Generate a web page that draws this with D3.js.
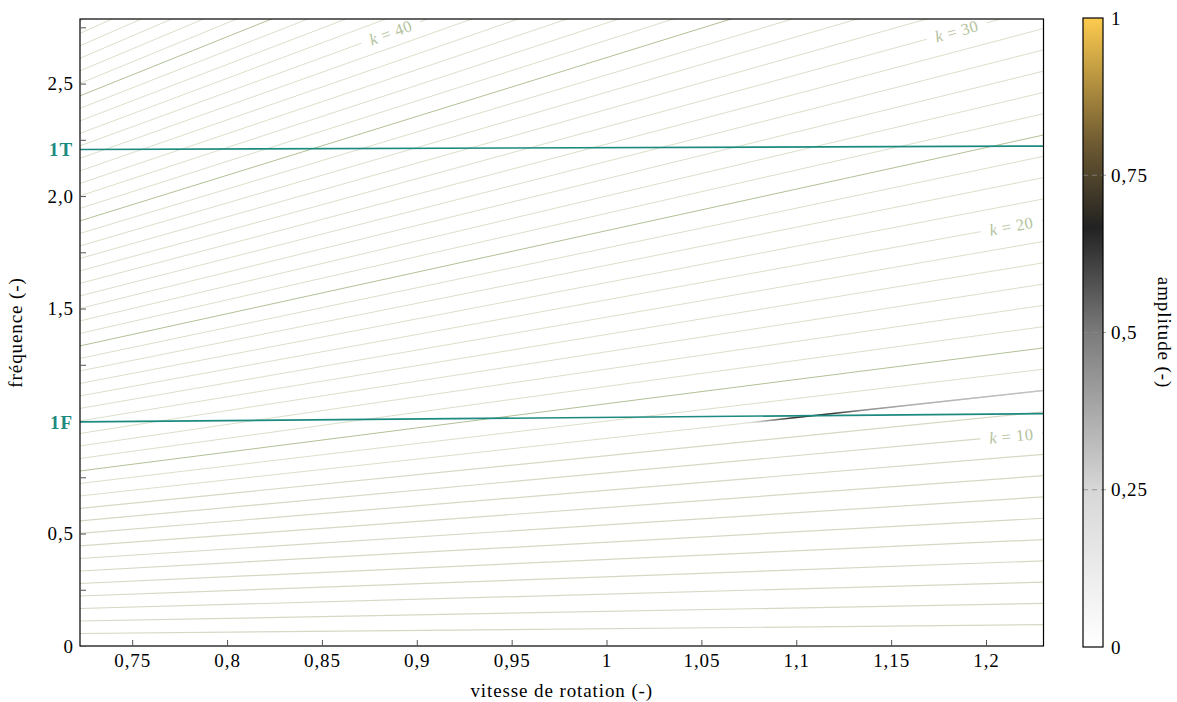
<!DOCTYPE html>
<html>
<head>
<meta charset="utf-8">
<script src="https://cdn.jsdelivr.net/npm/d3@7"></script>
<style>
  html, body { margin: 0; padding: 0; background: #fff; }
  svg { display: block; font-family: "Liberation Serif", "Times New Roman", serif; }
  svg text { letter-spacing: 0.9px; }
</style>
</head>
<body>
<svg id="chart" width="1177" height="702"></svg>
<script>
// ---------------- data ----------------
const omegaDomain = [0.7225, 1.2303];       // vitesse de rotation (-)
const freqDomain = [0, 2.787];              // fréquence (-)
const bladeCount = 13;                      // engine-order line: f = k * Ω / 13
const orders = [1,2,3,4,5,6,7,8,9,10,11,12,13,14,15,16,17,18,19,20,21,22,23,24,25,
                26,27,28,29,30,31,32,33,34,35,36,37,38,39,40,41,42,43,44,45,46,47,48,49,50];
const darkOrders = [14, 24, 34, 44];
const labelOrders = [40, 30, 20, 10];
const labelOmega = [0.8862, 1.1845, 1.2133, 1.2133];

const modeNames = ["1F", "1T"];
const modeOmega = [0.7225, 1.2303];
const mode1F = [0.996, 1.033];
const mode1T = [2.207, 2.222];

// resonance of order 12 with mode 1F (amplitude along the line)
const resOrder = 12;
const resOmega = [1.07, 1.085, 1.097, 1.107, 1.12, 1.135, 1.16, 1.20, 1.2303];
const resAmp   = [0.0, 0.4, 0.62, 0.68, 0.62, 0.45, 0.36, 0.32, 0.30];

const xTickValues = [0.75, 0.8, 0.85, 0.9, 0.95, 1.0, 1.05, 1.1, 1.15, 1.2];
const xTickLabels = ["0,75","0,8","0,85","0,9","0,95","1","1,05","1,1","1,15","1,2"];
const yTickValues = [0, 0.25, 0.5, 0.75, 1.0, 1.25, 1.5, 1.75, 2.0, 2.25, 2.5, 2.75];
const yTickLabels = ["0", "", "0,5", "", "", "", "1,5", "", "2,0", "", "2,5", ""];

const cbStops = [0, 0.25, 0.5, 0.667, 0.8, 1];
const cbColors = ["#ffffff", "#d7d7d7", "#7b7b7b", "#222222", "#6e5a32", "#fdcb4e"];
const cbTickValues = [0, 0.25, 0.5, 0.75, 1];
const cbTickLabels = ["0", "0,25", "0,5", "0,75", "1"];

// ---------------- layout ----------------
const svg = d3.select("#chart");
const L = 80, R = 1043.5, T = 19, B = 646;
const FS = 19;
const x = d3.scaleLinear().domain(omegaDomain).range([L, R]);
const y = d3.scaleLinear().domain(freqDomain).range([B, T]);
const cmap = d3.scaleLinear().domain(cbStops).range(cbColors).interpolate(d3.interpolateRgb);

const defs = svg.append("defs");
defs.append("clipPath").attr("id", "plotclip")
  .append("rect").attr("x", L).attr("y", T).attr("width", R - L).attr("height", B - T);

const plot = svg.append("g").attr("clip-path", "url(#plotclip)");

const line = d3.line().x(d => x(d[0])).y(d => y(d[1]));
const orderPts = k => omegaDomain.map(o => [o, k * o / bladeCount]);

// engine-order lines
plot.selectAll("path.order").data(orders).join("path")
  .attr("class", "order")
  .attr("d", k => line(orderPts(k)))
  .attr("fill", "none")
  .attr("stroke", k => darkOrders.includes(k) ? "#b2c196" : (k < 12 ? "#d6d8c4" : "#d5dcc3"))
  .attr("stroke-width", k => darkOrders.includes(k) ? 1.0 : (k < 12 ? 1.2 : 0.9));

// resonance highlight
const grad = defs.append("linearGradient").attr("id", "resgrad")
  .attr("gradientUnits", "userSpaceOnUse")
  .attr("x1", x(resOmega[0])).attr("x2", x(resOmega[resOmega.length - 1]))
  .attr("y1", 0).attr("y2", 0);
const span = resOmega[resOmega.length - 1] - resOmega[0];
resOmega.forEach((o, i) => {
  grad.append("stop")
    .attr("offset", (o - resOmega[0]) / span)
    .attr("stop-color", cmap(resAmp[i]))
    .attr("stop-opacity", Math.min(1, resAmp[i] * 4));
});
plot.append("path")
  .attr("d", line([[resOmega[0], resOrder * resOmega[0] / bladeCount],
                   [resOmega[resOmega.length - 1], resOrder * resOmega[resOmega.length - 1] / bladeCount]]))
  .attr("fill", "none").attr("stroke", "url(#resgrad)").attr("stroke-width", 1.6);

// mode lines
const modeData = [mode1F, mode1T];
plot.selectAll("path.mode").data(modeData).join("path")
  .attr("class", "mode")
  .attr("d", m => line(modeOmega.map((o, i) => [o, m[i]])))
  .attr("fill", "none").attr("stroke", "#1d8a80").attr("stroke-width", 1.7);

// order labels
const slopePx = k => (y(0) - y(k / bladeCount)) / (x(1) - x(0));
labelOrders.forEach((k, i) => {
  const o = labelOmega[i];
  const cx = x(o), cy = y(k * o / bladeCount);
  const ang = -Math.atan(slopePx(k)) * 180 / Math.PI;
  const g = svg.append("g").attr("transform", `translate(${cx},${cy}) rotate(${ang})`);
  g.append("rect").attr("x", -31).attr("y", -6).attr("width", 62).attr("height", 12).attr("fill", "#fff");
  const t = g.append("text").attr("text-anchor", "middle").attr("dy", "0.35em")
    .attr("font-size", 16.5).attr("fill", "#b3c29c").style("letter-spacing", "0.5px");
  t.append("tspan").attr("font-style", "italic").text("k");
  t.append("tspan").text(" = " + k);
});

// frame
svg.append("rect").attr("x", L).attr("y", T).attr("width", R - L).attr("height", B - T)
  .attr("fill", "none").attr("stroke", "#000").attr("stroke-width", 1.2);

// x axis
const xAxis = d3.axisBottom(x).tickValues(xTickValues)
  .tickFormat((d, i) => xTickLabels[i]).tickSize(-6).tickPadding(8);
const gx = svg.append("g").attr("transform", `translate(0,${B})`).call(xAxis);
gx.select(".domain").remove();
gx.selectAll(".tick line").attr("stroke", "#555");
gx.selectAll(".tick text").attr("font-size", FS).attr("fill", "#000").attr("font-family", "Liberation Serif");

// y axis
const yAxis = d3.axisLeft(y).tickValues(yTickValues)
  .tickFormat((d, i) => yTickLabels[i]).tickSize(-6).tickPadding(6);
const gy = svg.append("g").attr("transform", `translate(${L},0)`).call(yAxis);
gy.select(".domain").remove();
gy.selectAll(".tick line").attr("stroke", "#555").attr("display", (d, i) => d === 1.0 ? "none" : null);
gy.selectAll(".tick text").attr("font-size", FS).attr("fill", "#000").attr("font-family", "Liberation Serif");

// mode labels on y axis
modeNames.forEach((n, i) => {
  svg.append("text").attr("x", L - 7).attr("y", y(modeData[i][0])).attr("dy", "0.35em")
    .attr("text-anchor", "end").attr("font-size", FS).attr("font-weight", "bold")
    .attr("fill", "#1d8a80").text(n);
});

// axis titles
svg.append("text").attr("x", (L + R) / 2).attr("y", 697).attr("text-anchor", "middle")
  .attr("font-size", FS).text("vitesse de rotation (-)");
svg.append("text").attr("transform", `translate(22,${(T + B) / 2}) rotate(-90)`)
  .attr("text-anchor", "middle").attr("font-size", FS).text("fréquence (-)");

// colorbar
const cbX = 1083, cbW = 20, cbT = 18, cbB = 647;
const cy2 = d3.scaleLinear().domain([0, 1]).range([cbB, cbT]);
const cbGrad = defs.append("linearGradient").attr("id", "cbgrad")
  .attr("x1", 0).attr("x2", 0).attr("y1", 1).attr("y2", 0);
cbStops.forEach((s, i) => cbGrad.append("stop").attr("offset", s).attr("stop-color", cbColors[i]));
svg.append("rect").attr("x", cbX).attr("y", cbT).attr("width", cbW).attr("height", cbB - cbT)
  .attr("fill", "url(#cbgrad)");
svg.selectAll("line.cbtick").data(cbTickValues.filter(v => v > 0 && v < 1)).join("line")
  .attr("class", "cbtick")
  .attr("x1", cbX).attr("x2", cbX + cbW + 3).attr("y1", d => cy2(d)).attr("y2", d => cy2(d))
  .attr("stroke", "#888").attr("stroke-width", 1).attr("stroke-dasharray", "5,4").attr("opacity", 0.8);
svg.append("rect").attr("x", cbX).attr("y", cbT).attr("width", cbW).attr("height", cbB - cbT)
  .attr("fill", "none").attr("stroke", "#000").attr("stroke-width", 1.2);
svg.selectAll("text.cblab").data(cbTickValues).join("text")
  .attr("class", "cblab")
  .attr("x", cbX + cbW + 8).attr("y", d => cy2(d)).attr("dy", "0.35em")
  .attr("font-size", FS).text((d, i) => cbTickLabels[i]);
svg.append("text").attr("transform", `translate(1158,${(T + B) / 2}) rotate(90)`)
  .attr("text-anchor", "middle").attr("font-size", FS).text("amplitude (-)");
</script>
</body>
</html>
